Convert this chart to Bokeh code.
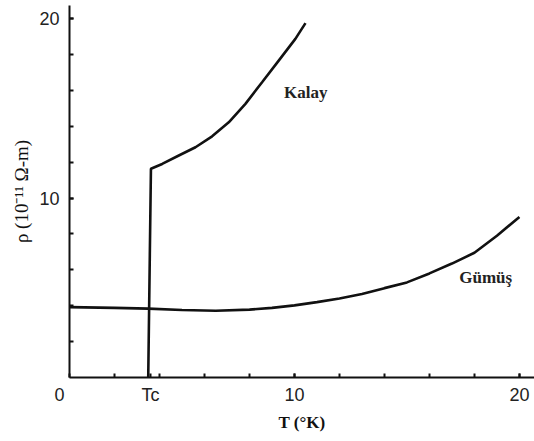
from bokeh.plotting import figure
from bokeh.models import FixedTicker, Label
from bokeh.embed import file_html
from bokeh.resources import INLINE

# Tin (Kalay): resistivity vs temperature (drops to 0 at Tc)
kalay_T = [3.5, 3.62, 4.12, 4.86, 5.6, 6.34, 7.08, 7.82, 8.56, 9.3, 10.04, 10.49]
kalay_rho = [0.0, 11.63, 11.9, 12.37, 12.83, 13.44, 14.22, 15.25, 16.45, 17.66, 18.87, 19.75]

# Silver (Gümüş)
gumus_T = [0, 2, 3.5, 5, 6.5, 8, 9, 10, 11, 12, 13, 14, 15, 16, 17, 18, 19, 20]
gumus_rho = [3.92, 3.88, 3.84, 3.76, 3.72, 3.78, 3.88, 4.02, 4.2, 4.4, 4.65, 4.98, 5.3, 5.8, 6.35, 6.95, 7.9, 8.95]

Tc = 3.6
x_ticks = [0, Tc, 10, 20]
x_tick_labels = {0: "0\u2007\u2007", Tc: "Tc", 10: "10", 20: "20"}
y_ticks = [10, 20]
minor = [2, 4, 6, 8, 10, 12, 14, 16, 18, 20]

p = figure(width=534, height=441, x_range=(0, 20.67), y_range=(0, 20.73),
           min_border_left=69, min_border_right=0, min_border_top=5, min_border_bottom=64,
           output_backend="svg", toolbar_location=None)
p.grid.visible = False
p.outline_line_color = None
p.background_fill_color = "white"
p.border_fill_color = "white"

for ax, ticks in ((p.xaxis[0], x_ticks), (p.yaxis[0], y_ticks)):
    ax.ticker = FixedTicker(ticks=ticks, minor_ticks=minor)
    ax.axis_line_width = 2
    ax.axis_line_color = "#111111"
    ax.major_tick_in = 4
    ax.major_tick_out = 0
    ax.minor_tick_in = 4
    ax.minor_tick_out = 0
    ax.major_tick_line_width = 2
    ax.minor_tick_line_width = 2
    ax.major_tick_line_color = "#111111"
    ax.minor_tick_line_color = "#111111"
    ax.major_label_text_font = "Liberation Sans"
    ax.major_label_text_font_size = "18px"
    ax.major_label_text_color = "#222222"
    ax.axis_label_text_font = "Liberation Serif"
    ax.axis_label_text_color = "#111111"

p.xaxis.major_label_overrides = x_tick_labels
p.xaxis.axis_label = "T (°K)"
p.xaxis.axis_label_text_font_style = "bold"
p.xaxis.axis_label_text_font_size = "17px"
p.yaxis.axis_label = "ρ (10⁻¹¹ Ω-m)"
p.yaxis.axis_label_text_font_style = "normal"
p.yaxis.axis_label_text_font_size = "19px"
p.xaxis.major_label_standoff = 7
p.yaxis.major_label_standoff = 10
p.xaxis.axis_label_standoff = 5
p.yaxis.axis_label_standoff = 4

p.line(kalay_T, kalay_rho, line_width=2.6, line_color="#111111")
p.line(gumus_T, gumus_rho, line_width=2.6, line_color="#111111")

p.add_layout(Label(x=10.5, y=15.9, text="Kalay", text_align="center", text_baseline="middle",
                   text_font="Liberation Serif", text_font_style="bold", text_font_size="17px",
                   text_color="#222222"))
p.add_layout(Label(x=18.5, y=5.6, text="Gümüş", text_align="center", text_baseline="middle",
                   text_font="Liberation Serif", text_font_style="bold", text_font_size="17px",
                   text_color="#222222"))

open("out.html", "w").write(file_html(p, INLINE))
